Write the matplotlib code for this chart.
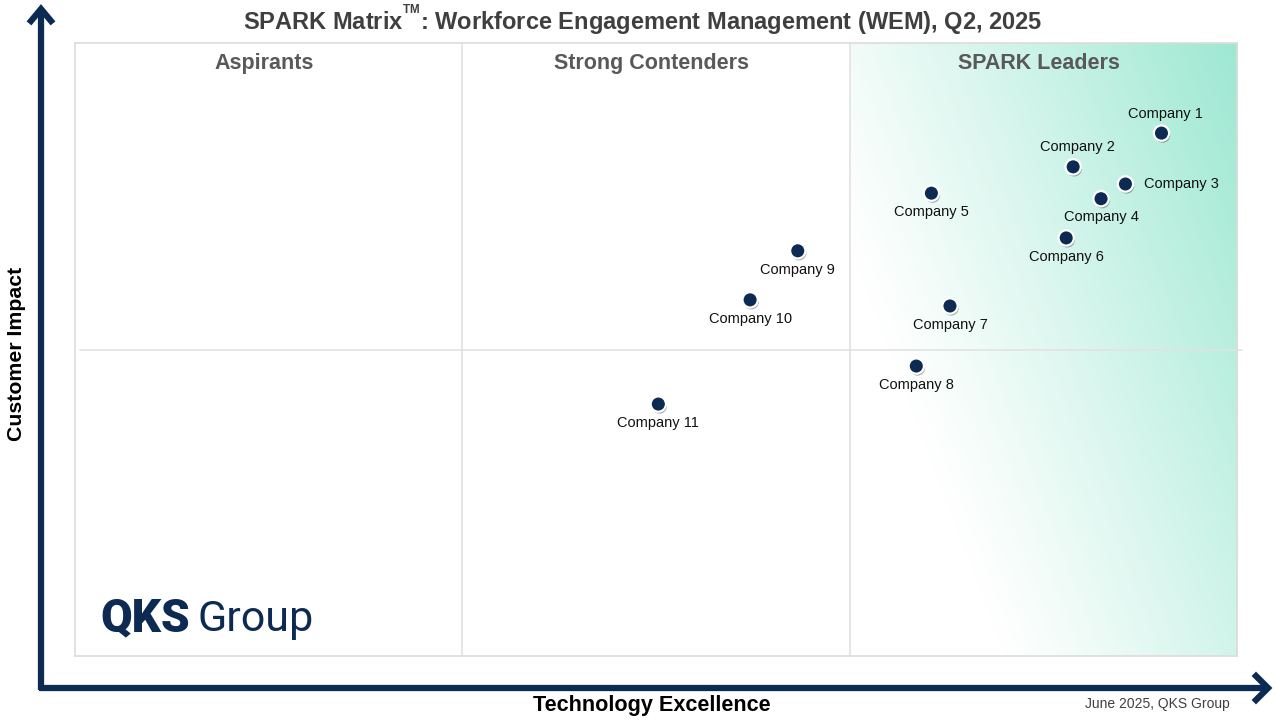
import numpy as np
import matplotlib
matplotlib.use("Agg")
import matplotlib.pyplot as plt
import matplotlib.patheffects as pe

plt.rcParams['font.family'] = ['Liberation Sans', 'DejaVu Sans']
plt.rcParams['mathtext.fontset'] = 'custom'
plt.rcParams['mathtext.rm'] = 'Liberation Sans:bold'

companies = ["Company 1", "Company 2", "Company 3", "Company 4", "Company 5", "Company 6",
             "Company 7", "Company 8", "Company 9", "Company 10", "Company 11"]
tech_excellence = [93.5, 85.9, 90.4, 88.3, 73.7, 85.3, 75.3, 72.4, 62.2, 58.1, 50.2]
customer_impact = [85.3, 79.8, 77.0, 74.6, 75.5, 68.2, 57.1, 47.3, 66.1, 58.1, 41.1]
label_side = ["above", "above", "right", "below", "below", "below",
              "below", "below", "below", "below", "below"]
quadrants = ["Aspirants", "Strong Contenders", "SPARK Leaders"]

navy = "#0c2a52"
W, H = 1280, 720
fig = plt.figure(figsize=(12.8, 7.2), dpi=100)

# overlay in pixel coordinates for arrows and framing text
bg = fig.add_axes([0, 0, 1, 1])
bg.set_xlim(0, W)
bg.set_ylim(H, 0)
bg.axis("off")

ax = fig.add_axes([75 / W, (H - 656) / H, 1162 / W, 613 / H])
ax.set_xlim(0, 100)
ax.set_ylim(0, 100)
ax.set_xticks([])
ax.set_yticks([])
for s in ax.spines.values():
    s.set_color("#dcdcdc")
    s.set_linewidth(1.2)

# gradient in leaders quadrant
nx, ny = 300, 470
u = np.linspace(0, 1, nx)[None, :]
v = np.linspace(1, 0, ny)[:, None]
t = np.clip((0.75 * u + 0.45 * v - 0.30) / 0.9, 0, 1)
t = t ** 1.1
c0 = np.array([1.0, 1.0, 1.0])
c1 = np.array([0x9d, 0xe8, 0xd2]) / 255
img = c0 + (c1 - c0) * t[..., None]
ax.imshow(img, extent=[200 / 3, 100, 0, 100], aspect="auto", zorder=0, interpolation="bilinear")

ax.axvline(100 / 3, color="#e2e2e2", lw=1.2, zorder=1)
ax.axvline(200 / 3, color="#e2e2e2", lw=1.2, zorder=1)
ax.plot([0.4, 100.4], [50, 50], color="#e2e2e2", lw=1.2, zorder=1, clip_on=False)

for i, q in enumerate(quadrants):
    ax.text((i + 0.5) * 100 / 3 - 0.4, 96.6, q, ha="center", va="center", fontsize=15.5,
            fontweight="bold", color="#595959", zorder=3)

ax.plot(tech_excellence, customer_impact, "o", ms=11, color=navy, mec="white", mew=1.6,
        zorder=4, path_effects=[pe.SimplePatchShadow(offset=(0.8, -1.4), alpha=0.35), pe.Normal()])

offsets = {"above": ((3, 14), "center", "center"),
           "below": ((0, -13.5), "center", "center"),
           "right": ((13, 0), "left", "center")}
for name, x, y, side in zip(companies, tech_excellence, customer_impact, label_side):
    off, ha, va = offsets[side]
    ax.annotate(name, (x, y), xytext=off, textcoords="offset points", ha=ha, va=va,
                fontsize=10.5, color="#111111", zorder=5)

# logo
ax.text(2.15, 4.0, "QKS", fontsize=33, fontweight="black", family=["Roboto", "DejaVu Sans"],
        color=navy, ha="left", va="baseline", zorder=3)
ax.text(10.5, 4.0, "Group", fontsize=31, fontweight="normal", family=["Roboto", "DejaVu Sans"],
        color=navy, ha="left", va="baseline", zorder=3)

# axis arrows
bg.plot([41, 41], [690, 10], color=navy, lw=4.5, solid_capstyle="butt")
bg.plot([39, 1265], [688, 688], color=navy, lw=4.5, solid_capstyle="butt")
bg.plot([31, 41, 51], [21, 9, 21], color=navy, lw=4.5, solid_joinstyle="miter")
bg.plot([1256, 1268, 1256], [676, 688, 700], color=navy, lw=4.5, solid_joinstyle="miter")

bg.text(643, 20, r"SPARK Matrix$^{^{\rm TM}}$: Workforce Engagement Management (WEM), Q2, 2025",
        ha="center", va="center", fontsize=17, fontweight="bold", color="#3f3f3f")
bg.text(17, 354, "Customer Impact", rotation=90, ha="center", va="center", fontsize=15.3,
        fontweight="bold", color="black")
bg.text(652, 705, "Technology Excellence", ha="center", va="center", fontsize=15.6,
        fontweight="bold", color="black")
bg.text(1157, 704, "June 2025, QKS Group", ha="center", va="center", fontsize=10,
        color="#404040")

fig.savefig("out.png", dpi=100)
